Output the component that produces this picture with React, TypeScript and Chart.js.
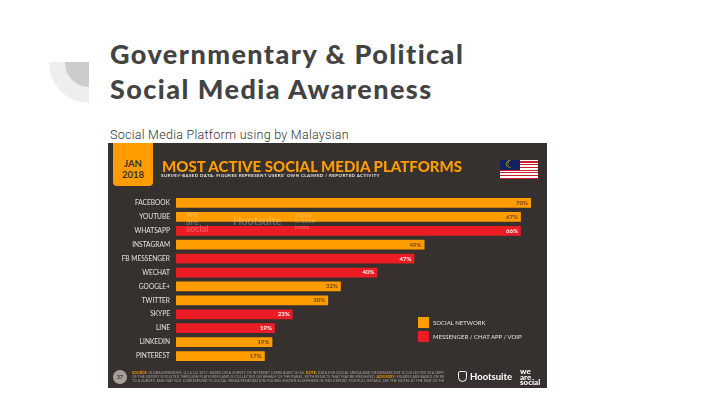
import React, { useEffect, useRef } from "react";
import { Chart, registerables } from "chart.js";

Chart.register(...registerables);

const categories = ["FACEBOOK", "YOUTUBE", "WHATSAPP", "INSTAGRAM", "FB MESSENGER", "WECHAT", "GOOGLE+", "TWITTER", "SKYPE", "LINE", "LINKEDIN", "PINTEREST"];
const socialNetwork = [70, 68, null, 49, null, null, 32.5, 30, null, null, 19, 17.5];
const messenger = [null, null, 68, null, 47, 39.7, null, null, 23, 19.5, null, null];
const valueLabels = ["70%", "67%", "66%", "49%", "47%", "40%", "32%", "30%", "23%", "19%", "19%", "17%"];
const seriesNames = ["SOCIAL NETWORK", "MESSENGER / CHAT APP / VOIP"];

const ORANGE = "#ff9d00";
const RED = "#ec1c24";
const PANEL = "#36312e";

const abs = (left: number, top: number, extra: React.CSSProperties = {}): React.CSSProperties => ({
  position: "absolute",
  left,
  top,
  whiteSpace: "nowrap",
  ...extra,
});

const valueLabelPlugin = {
  id: "valueLabels",
  afterDatasetsDraw(chart: any) {
    const { ctx } = chart;
    ctx.save();
    ctx.font = "bold 6px Lato";
    ctx.textAlign = "right";
    ctx.textBaseline = "middle";
    chart.data.datasets.forEach((ds: any, i: number) => {
      chart.getDatasetMeta(i).data.forEach((bar: any, j: number) => {
        if (ds.data[j] == null) return;
        ctx.fillStyle = i === 0 ? "#6b4300" : "#ffffff";
        ctx.fillText(valueLabels[j], bar.x - 3, bar.y);
      });
    });
    ctx.restore();
  },
};

const watermarkStyle: React.CSSProperties = { color: "rgba(255,255,255,0.25)", fontFamily: "Lato", fontWeight: 700 };
const hl: React.CSSProperties = { color: ORANGE, fontWeight: 700 };

export default function App() {
  const ref = useRef<HTMLCanvasElement>(null);
  useEffect(() => {
    const chart = new Chart(ref.current!, {
      type: "bar",
      data: {
        labels: categories,
        datasets: [
          { label: seriesNames[0], data: socialNetwork, backgroundColor: ORANGE, stack: "s" },
          { label: seriesNames[1], data: messenger, backgroundColor: RED, stack: "s" },
        ],
      } as any,
      options: {
        indexAxis: "y",
        animation: false,
        responsive: false,
        layout: { padding: { left: 0, right: 16, top: 53, bottom: 25 } },
        datasets: { bar: { barPercentage: 0.7, categoryPercentage: 1 } },
        plugins: { legend: { display: false }, title: { display: false }, tooltip: { enabled: false } },
        scales: {
          x: { min: 0, max: 70, stacked: true, display: false },
          y: {
            stacked: true,
            border: { display: false },
            grid: { display: false, drawTicks: false },
            afterFit(axis: any) {
              axis.width = 68;
            },
            ticks: { color: "#e4e2df", font: { family: "Lato", size: 6.6 }, padding: 6, autoSkip: false },
          },
        },
      } as any,
      plugins: [valueLabelPlugin],
    });
    return () => chart.destroy();
  }, []);

  return (
    <div style={{ position: "fixed", left: 0, top: 0, width: 720, height: 405, background: "#fff", overflow: "hidden" }}>
      <div style={abs(49, 62, { width: 40, height: 41, background: "#eeeeee", borderBottomLeftRadius: 40 })} />
      <div style={abs(65, 62, { width: 24, height: 25, background: "#cccccc", borderBottomLeftRadius: 24 })} />

      <div style={abs(110, 36, { fontFamily: "Lato", fontWeight: 900, fontSize: 27, lineHeight: "35px", color: "#434343", letterSpacing: 1.45 })}>
        Governmentary &amp; Political
        <br />
        Social Media Awareness
      </div>
      <div style={abs(110, 127, { fontFamily: "Roboto", fontWeight: 300, fontSize: 12.5, lineHeight: "15px", color: "#333", letterSpacing: 0.27 })}>
        Social Media Platform using by Malaysian
      </div>

      <div style={abs(108, 143, { width: 439, height: 245, background: PANEL })}>
        <canvas ref={ref} width={439} height={245} style={{ display: "block", width: 439, height: 245 }} />
      </div>

      <div style={abs(113, 143, { width: 40, height: 43, background: ORANGE, borderRadius: "0 0 4px 4px", color: PANEL, fontFamily: "Lato", fontWeight: 700, fontSize: 9.5, lineHeight: "11px", textAlign: "center", paddingTop: 15, boxSizing: "border-box" })}>
        JAN
        <br />
        2018
      </div>
      <div style={abs(162, 157, { color: ORANGE, fontFamily: "Lato", fontWeight: 900, fontSize: 15, lineHeight: "18px" })}>MOST ACTIVE SOCIAL MEDIA PLATFORMS</div>
      <div style={abs(161, 173, { color: "#e8e6e3", fontFamily: "Lato", fontWeight: 700, fontSize: 4.5, lineHeight: "6px", letterSpacing: 0.37 })}>
        SURVEY-BASED DATA: FIGURES REPRESENT USERS' OWN CLAIMED / REPORTED ACTIVITY
      </div>

      <div style={abs(500, 160, { width: 38, height: 19, background: "repeating-linear-gradient(#ffffff 0 1.4px, #c9202c 1.4px 2.7px)" })} />
      <div style={abs(500, 160, { width: 20, height: 10, background: "#14215f", color: "#ffcc00", fontSize: 11, lineHeight: "10px", textAlign: "center", fontFamily: "DejaVu Sans" })}>☾</div>

      <div style={abs(186, 210, { ...watermarkStyle, fontSize: 9, lineHeight: "7.5px" })}>
        we
        <br />
        are
        <br />
        social
      </div>
      <div style={abs(233, 214, { ...watermarkStyle, fontSize: 11, lineHeight: "13px" })}>Hootsuite</div>
      <div style={abs(295, 212, { ...watermarkStyle, fontSize: 6, lineHeight: "6px" })}>
        digital
        <br />
        in 2018
        <br />
        index
      </div>

      {seriesNames.map((name, i) => (
        <React.Fragment key={name}>
          <div style={abs(418, 317 + i * 14, { width: 11, height: 11, background: i === 0 ? ORANGE : RED })} />
          <div style={abs(433, 318 + i * 14, { color: "#e4e2df", fontFamily: "Lato", fontSize: 6, lineHeight: "9px" })}>{name}</div>
        </React.Fragment>
      ))}

      <div style={abs(113, 370, { width: 14, height: 14, borderRadius: 7, background: "#a59f98", color: PANEL, fontFamily: "Lato", fontWeight: 700, fontSize: 5, lineHeight: "14px", textAlign: "center" })}>37</div>
      <div style={abs(132, 371, { width: 312, height: 13, overflow: "hidden", color: "#a8a39e", fontFamily: "Lato", fontSize: 3.5, lineHeight: "4.2px", letterSpacing: 0.1 })}>
        <span style={hl}>SOURCE:</span> GLOBALWEBINDEX, Q2 &amp; Q3 2017. BASED ON A SURVEY OF INTERNET USERS AGED 16-64. <span style={hl}>NOTE:</span> DATA FOR SOCIAL MEDIA AND MESSENGER USE IS COLLECTED IN A DIFFERENT WAY
        <br />
        OF THE SURVEY IS ROUTED THROUGH PLATFORMS AND IS COLLECTED ON BEHALF OF THE PANEL, WITH RESULTS THAT MAY BE WEIGHTED. <span style={hl}>ADVISORY:</span> FIGURES ARE BASED ON RESPONSES
        <br />
        TO A SURVEY, AND MAY NOT CORRESPOND TO SOCIAL MEDIA PENETRATION FIGURES SHOWN ELSEWHERE IN THIS REPORT. FOR FULL DETAILS, SEE THE NOTES AT THE END OF THIS REPORT.
      </div>

      <div style={abs(458, 371, { width: 9, height: 11, border: "1px solid #fff", borderRadius: "2px 2px 5px 5px", boxSizing: "border-box" })} />
      <div style={abs(470, 370, { color: "#fff", fontFamily: "Lato", fontWeight: 700, fontSize: 9.5, lineHeight: "13px" })}>Hootsuite</div>
      <div style={abs(520, 369, { color: "#fff", fontFamily: "Lato", fontWeight: 900, fontSize: 8, lineHeight: "5.5px" })}>
        we
        <br />
        are
        <br />
        social
      </div>
    </div>
  );
}
